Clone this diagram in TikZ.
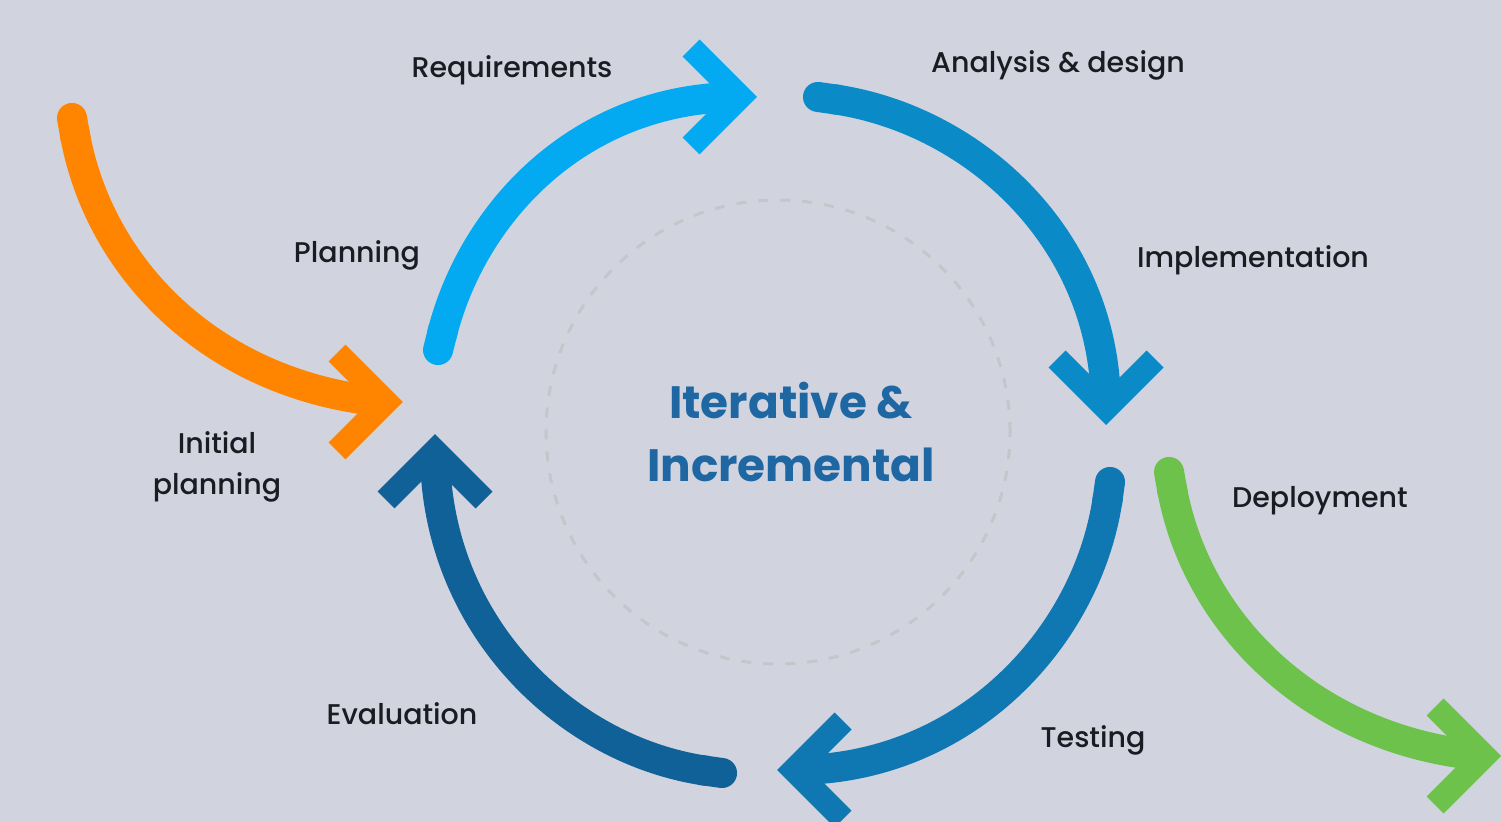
\documentclass[tikz,border=0pt]{standalone}
\usepackage{fontspec}
\setmainfont{Poppins}
\newfontfamily\lblfont{Poppins Medium}
\usetikzlibrary{arrows.meta}
\definecolor{bgcol}{HTML}{D1D4DF}
\definecolor{reqcol}{HTML}{03A9F1}
\definecolor{anacol}{HTML}{0A8BC7}
\definecolor{testcol}{HTML}{0F78B3}
\definecolor{evalcol}{HTML}{106197}
\definecolor{initcol}{HTML}{FF8500}
\definecolor{depcol}{HTML}{6CC24A}
\definecolor{titlecol}{HTML}{1E67A3}
\definecolor{labelcol}{HTML}{1B1C22}
\definecolor{ringcol}{HTML}{C6C6CA}

\begin{document}
\begin{tikzpicture}[x=0.01cm,y=0.01cm,
  shaft/.style={line width=0.30cm,{Round Cap[]}-},
  chevron/.style={line width=0.24cm,line join=miter,line cap=butt},
  lbl/.style={inner sep=0pt,anchor=base,text=labelcol,font=\lblfont\fontsize{8.1}{10}\selectfont},
  ttl/.style={inner sep=0pt,align=center,text=titlecol,font=\fontsize{12.9}{18}\selectfont\bfseries}]
\fill[bgcol] (0,0) rectangle (1501,-822);
\useasboundingbox (0,0) rectangle (1501,-822);
\draw[ringcol,line width=0.03cm,dash pattern=on 0.1cm off 0.12cm] (778,-432) circle (232);
\coordinate (reqs) at (434.4,-364.6);
\coordinate (reqe) at (740,-97);
\coordinate (anas) at (803.1,-94.9);
\coordinate (anae) at (1106,-408);
\coordinate (tests) at (1112.1,-467.1);
\coordinate (teste) at (794,-770);
\coordinate (evals) at (736.9,-775.1);
\coordinate (evale) at (435,-451);
\coordinate (inits) at (69.4,-103.2);
\coordinate (inite) at (386,-402);
\coordinate (deps) at (1166.4,-457.2);
\coordinate (depe) at (1484,-756);
\draw[shaft,reqcol] (reqs) to[out=76,in=180] (reqe);
\draw[chevron,reqcol] ([shift={(-49,49)}]reqe) -- (reqe) -- ([shift={(-49,-49)}]reqe);
\draw[shaft,anacol] (anas) to[out=-8,in=90] (anae);
\draw[chevron,anacol] ([shift={(-49,49)}]anae) -- (anae) -- ([shift={(49,49)}]anae);
\draw[shaft,testcol] (tests) to[out=-98,in=0] (teste);
\draw[chevron,testcol] ([shift={(49,49)}]teste) -- (teste) -- ([shift={(49,-49)}]teste);
\draw[shaft,evalcol] (evals) to[out=172,in=-90] (evale);
\draw[chevron,evalcol] ([shift={(-49,-49)}]evale) -- (evale) -- ([shift={(49,-49)}]evale);
\draw[shaft,initcol] (inits) to[out=-80,in=175] (inite);
\draw[chevron,initcol] ([shift={(-49,49)}]inite) -- (inite) -- ([shift={(-49,-49)}]inite);
\draw[shaft,depcol] (deps) to[out=-80,in=175] (depe);
\draw[chevron,depcol] ([shift={(-49,49)}]depe) -- (depe) -- ([shift={(-49,-49)}]depe);
\node[lbl] (req) at (512,-78) {Requirements};
\node[lbl] (ana) at (1058,-73) {Analysis \& design};
\node[lbl] (impl) at (1253,-268) {Implementation};
\node[lbl] (plan) at (357,-263) {Planning};
\node[lbl,anchor=center,align=center,font=\lblfont\fontsize{8.1}{11.7}\selectfont] (init) at (217,-467) {Initial\\planning};
\node[lbl] (dep) at (1320,-508) {Deployment};
\node[lbl] (eval) at (402,-724) {Evaluation};
\node[lbl] (test) at (1093,-747) {Testing};
\node[ttl] (title) at (791,-432) {Iterative \&\\Incremental};
\end{tikzpicture}
\end{document}
